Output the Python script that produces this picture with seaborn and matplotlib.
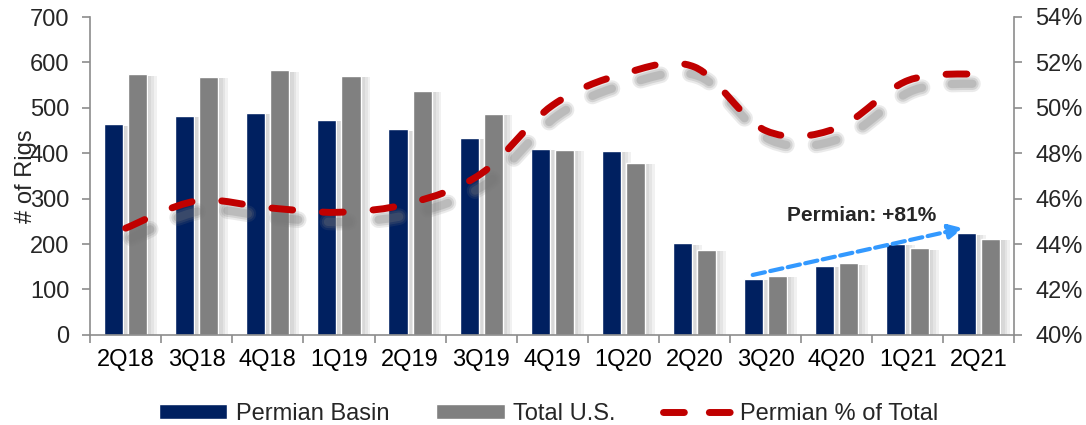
import numpy as np
import matplotlib
matplotlib.use("Agg")
import matplotlib.pyplot as plt
import matplotlib.patheffects as pe
from matplotlib.path import Path
from matplotlib.patches import PathPatch, Patch
from matplotlib.lines import Line2D
from matplotlib.ticker import FuncFormatter, FixedLocator
import seaborn as sns
import pandas as pd

# data
quarters = ["2Q18", "3Q18", "4Q18", "1Q19", "2Q19", "3Q19", "4Q19",
            "1Q20", "2Q20", "3Q20", "4Q20", "1Q21", "2Q21"]
permian_rigs = [464, 482, 489, 473, 453, 434, 410, 405, 202, 123, 152, 201, 224]
total_rigs = [574, 568, 583, 570, 537, 487, 408, 379, 188, 130, 158, 191, 211]
permian_share = [44.7, 45.9, 45.6, 45.4, 45.8, 47.1, 50.1, 51.5, 51.8, 49.0, 49.1, 51.2, 51.5]

# annotation (data coords: category index, rigs)
note_text = "Permian: +81%"
note_xy = (10.35, 262)
arrow_start = (8.82, 132)
arrow_end = (11.78, 235)

navy = "#002060"
grey = "#808080"
red = "#C00000"
blue = "#3399FF"
spine_c = "#8C8C8C"

sns.set_theme(style="white")
plt.rcParams['font.family'] = ['Liberation Sans', 'DejaVu Sans']

n = len(quarters)
df = pd.DataFrame({
    "quarter": quarters * 2,
    "rigs": permian_rigs + total_rigs,
    "series": ["Permian Basin"] * n + ["Total U.S."] * n,
})

fig = plt.figure(figsize=(10.86, 4.25), dpi=100)
ax = fig.add_axes([0.083, 0.212, 0.851, 0.748])

sns.barplot(data=df, x="quarter", y="rigs", hue="series", palette=[navy, grey],
            width=0.68, gap=0.21, saturation=1, legend=False, ax=ax)
# soft shadow: a few stacked faint offsets
bar_shadow = [pe.SimplePatchShadow(offset=(k, -1), shadow_rgbFace="#666666", alpha=0.09)
              for k in (7, 5, 3, 1)]
for p in ax.patches:
    p.set_path_effects(bar_shadow + [pe.Normal()])

ax.set_xlim(-0.5, n - 0.5)
ax.set_ylim(0, 700)
ax.set_yticks(range(0, 701, 100))
ax.set_xlabel("")
ax.set_ylabel("# of Rigs", fontsize=17)
ax.yaxis.set_label_coords(-0.057, 0.5)

ax.xaxis.set_minor_locator(FixedLocator(np.arange(-0.5, n, 1.0)))
ax.tick_params(axis="x", which="major", length=0, pad=10, labelsize=17, colors="black")
ax.tick_params(axis="x", which="minor", length=6, width=1.2, color=spine_c, bottom=True)
ax.tick_params(axis="y", length=6, width=1.2, color=spine_c, pad=9, labelsize=17, left=True)

for s in ["top", "right"]:
    ax.spines[s].set_visible(False)
for s in ["left", "bottom"]:
    ax.spines[s].set_color(spine_c)
    ax.spines[s].set_linewidth(1.2)

# secondary axis: Permian share
ax2 = ax.twinx()
ax2.set_ylim(40, 54)
ax2.set_yticks(range(40, 55, 2))
ax2.yaxis.set_major_formatter(FuncFormatter(lambda v, _: f"{v:.0f}%"))
ax2.tick_params(axis="y", length=6, width=1.2, color=spine_c, pad=9, labelsize=17, right=True)
for s in ["top", "left", "bottom"]:
    ax2.spines[s].set_visible(False)
ax2.spines["right"].set_color(spine_c)
ax2.spines["right"].set_linewidth(1.2)
ax2.grid(False)

# smoothed line (bezier through the quarter points)
pts = np.column_stack([np.arange(n), permian_share])
ext = np.vstack([pts[0], pts, pts[-1]])
verts = [pts[0]]
codes = [Path.MOVETO]
for i in range(n - 1):
    p0, p1, p2, p3 = ext[i], ext[i + 1], ext[i + 2], ext[i + 3]
    verts += [p1 + (p2 - p0) / 6, p2 - (p3 - p1) / 6, p2]
    codes += [Path.CURVE4] * 3
line_shadow = [pe.SimpleLineShadow(offset=(4, -7), shadow_color="#777777", alpha=a, linewidth=w)
               for a, w in ((0.15, 12), (0.2, 9), (0.25, 6))]
curve = PathPatch(Path(verts, codes), facecolor="none", edgecolor=red, lw=5,
                  linestyle=(0, (3.0, 4.3)), capstyle="round",
                  path_effects=line_shadow + [pe.Normal()])
ax2.add_patch(curve)

# arrow + note on the bar axis
ax.annotate("", xy=arrow_end, xytext=arrow_start,
            arrowprops=dict(arrowstyle="-|>,head_length=0.7,head_width=0.35", color=blue,
                            lw=3, ls=(0, (3, 1.3)), shrinkA=0, shrinkB=0), zorder=5)
ax.text(*note_xy, note_text, fontsize=15, fontweight="bold", ha="center", va="center", zorder=6)

handles = [Patch(facecolor=navy), Patch(facecolor=grey),
           Line2D([], [], color=red, lw=5, ls=(0, (3.0, 3.6)), solid_capstyle="round",
                  dash_capstyle="round")]
labels = ["Permian Basin", "Total U.S.", "Permian % of Total"]
fig.legend(handles, labels, loc="center", bbox_to_anchor=(0.505, 0.027), ncol=3, frameon=False,
           fontsize=17, handlelength=2.9, handleheight=0.6, handletextpad=0.35, columnspacing=2.0)

fig.savefig("out.png", dpi=100, facecolor="white")
